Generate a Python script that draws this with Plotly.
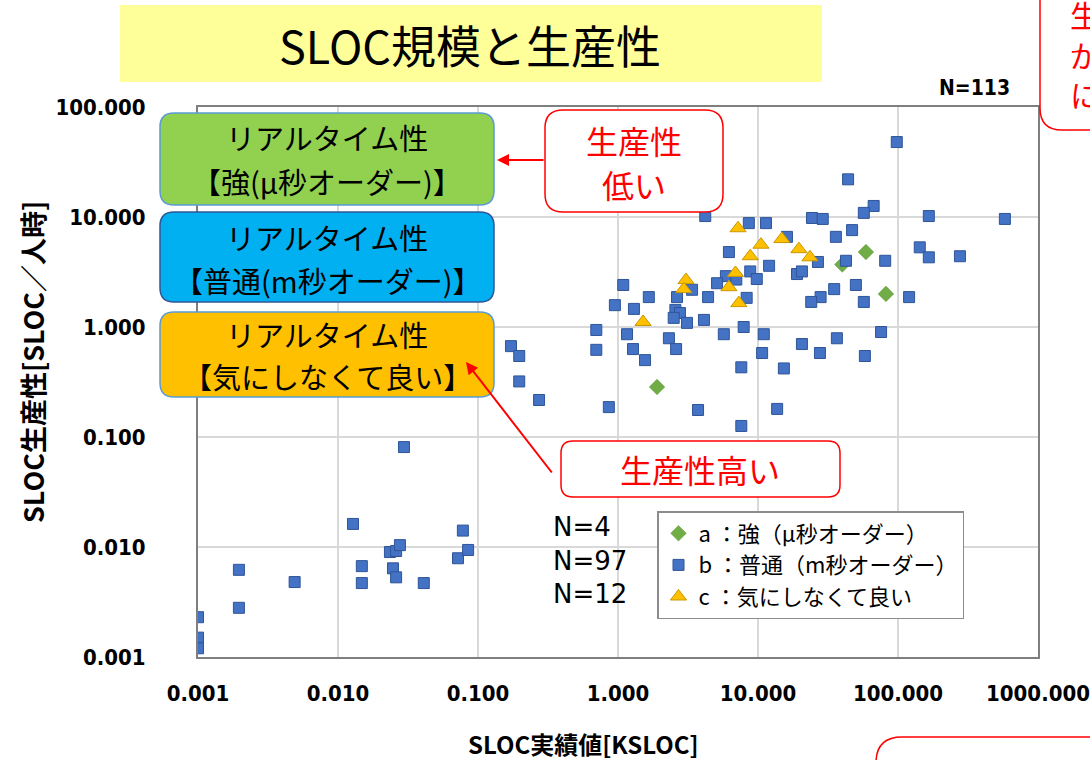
import plotly.graph_objects as go

# ---------------- data ----------------
a_x = [1.9, 59, 40, 82]
a_y = [0.285, 4.8, 3.7, 2.0]

b_x = [0.001, 0.001, 0.001, 0.00196, 0.00196, 0.0049, 0.0128, 0.0148, 0.0148,
       0.0235, 0.026, 0.0277, 0.0247, 0.026, 0.041, 0.072, 0.078, 0.085, 0.0296,
       0.172, 0.197, 0.197, 0.273, 0.70, 0.70, 1.16, 1.28, 1.56, 2.31, 2.6, 0.86,
       3.73, 5.7, 7.9, 11.0, 10.7, 7.6, 7.6, 13.7, 15.3, 20.6, 27.7, 36.6, 58, 75.7,
       4.2, 8.6, 11.4, 6.2, 12.0, 8.8, 9.8, 5.9, 5.1, 3.38, 2.64, 1.66, 1.09, 0.95,
       1.30, 2.57, 2.77, 2.5, 3.11, 4.11, 4.4, 8.3, 7.0,
       98, 44, 67, 57, 24.3, 29, 166, 580, 47, 36, 16.1, 26.8, 42.5, 81, 143, 166,
       277, 19.0, 20.6, 35, 50, 28, 24, 57, 120]
b_y = [0.0023, 0.0015, 0.0012, 0.0062, 0.0028, 0.0048, 0.0162, 0.0067, 0.0047,
       0.0090, 0.0092, 0.0104, 0.0064, 0.0053, 0.0047, 0.0079, 0.0141, 0.0094, 0.081,
       0.67, 0.545, 0.32, 0.217, 0.94, 0.62, 0.86, 0.63, 0.50, 0.79, 0.63, 0.187,
       0.176, 0.86, 1.0, 0.86, 0.58, 0.43, 0.126, 0.18, 0.42, 0.70, 0.58, 0.79, 0.545, 0.90,
       10.2, 8.8, 8.8, 4.8, 3.6, 3.2, 2.73, 2.9, 2.5, 2.18, 1.87, 1.87, 2.41, 1.58,
       1.46, 1.43, 1.34, 1.21, 1.09, 1.16, 1.87, 1.84, 2.7,
       48, 22, 12.6, 10.9, 9.8, 9.6, 10.2, 9.6, 7.6, 6.6, 6.6, 3.9, 4.0, 4.0, 5.3, 4.3,
       4.4, 3.03, 3.2, 2.21, 2.41, 1.87, 1.69, 1.69, 1.87]

c_x = [7.2, 10.5, 8.8, 6.9, 6.2, 3.06, 2.95, 1.51, 7.3, 14.8, 19.6, 23.5]
c_y = [7.9, 5.6, 4.4, 3.1, 2.3, 2.67, 2.21, 1.11, 1.65, 6.3, 5.1, 4.3]

x_ticks = [0.001, 0.01, 0.1, 1, 10, 100, 1000]
x_labels = ["0.001", "0.010", "0.100", "1.000", "10.000", "100.000", "1000.000"]
y_ticks = [0.001, 0.01, 0.1, 1, 10, 100]
y_labels = ["0.001", "0.010", "0.100", "1.000", "10.000", "100.000"]

legend_names = ["a ：強（μ秒オーダー）", "b ：普通（m秒オーダー）", "c ：気にしなくて良い"]
counts = ["N=4", "N=97", "N=12"]

# ---------------- layout helpers ----------------
W, H = 1090, 760
L, R, T, B = 198, 1038, 107, 657
PW, PH = R - L, B - T


def PX(x):
    return (x - L) / PW


def PY(y):
    return (B - y) / PH


def rrect(x0, y0, x1, y1, r):
    pts = [
        f"M {PX(x0 + r)},{PY(y0)}",
        f"L {PX(x1 - r)},{PY(y0)}",
        f"Q {PX(x1)},{PY(y0)} {PX(x1)},{PY(y0 + r)}",
        f"L {PX(x1)},{PY(y1 - r)}",
        f"Q {PX(x1)},{PY(y1)} {PX(x1 - r)},{PY(y1)}",
        f"L {PX(x0 + r)},{PY(y1)}",
        f"Q {PX(x0)},{PY(y1)} {PX(x0)},{PY(y1 - r)}",
        f"L {PX(x0)},{PY(y0 + r)}",
        f"Q {PX(x0)},{PY(y0)} {PX(x0 + r)},{PY(y0)}",
        "Z",
    ]
    return " ".join(pts)


JP = "Noto Sans CJK JP"

fig = go.Figure()
fig.add_trace(go.Scatter(x=a_x, y=a_y, mode="markers", name=legend_names[0],
                         marker=dict(symbol="diamond", size=12, color="#70AD47",
                                     line=dict(color="#5E9A3A", width=0.5))))
fig.add_trace(go.Scatter(x=b_x, y=b_y, mode="markers", name=legend_names[1],
                         marker=dict(symbol="square", size=11, color="#4472C4",
                                     line=dict(color="#2F5597", width=1))))
fig.add_trace(go.Scatter(x=c_x, y=c_y, mode="markers", name=legend_names[2],
                         marker=dict(symbol="triangle-up", size=14, color="#FFC000",
                                     line=dict(color="#C99700", width=1))))

shapes = []
annotations = []

# title box
shapes.append(dict(type="rect", xref="paper", yref="paper", x0=PX(120), x1=PX(822),
                   y0=PY(82), y1=PY(5), fillcolor="#FFFF99", line=dict(width=0), layer="above"))
annotations.append(dict(text="SLOC規模と生産性", x=PX(470), y=PY(45), xref="paper", yref="paper",
                        showarrow=False, font=dict(family=JP, size=45, color="#000000"),
                        xanchor="center", yanchor="middle"))

# N=113
annotations.append(dict(text="<b>N=113</b>", x=PX(1012), y=PY(88), xref="paper", yref="paper",
                        showarrow=False, xanchor="right", yanchor="middle",
                        font=dict(family="DejaVu Sans Condensed, DejaVu Sans", size=21, color="#000")))

# category boxes
boxes = [
    (113, 205, "#92D050", "#5B9BD5", "【強(μ秒オーダー)】", 137, 181),
    (212, 302, "#00B0F0", "#2F5597", "【普通(m秒オーダー)】", 237, 280),
    (312, 397, "#FFC000", "#5B9BD5", "【気にしなくて良い】", 334, 376),
]
for y0, y1, fill, border, line2, t1, t2 in boxes:
    shapes.append(dict(type="path", xref="paper", yref="paper", path=rrect(160, y0, 494, y1, 14),
                       fillcolor=fill, line=dict(color=border, width=1.5), layer="above"))
    annotations.append(dict(text="リアルタイム性", x=PX(327), y=PY(t1), xref="paper", yref="paper",
                            showarrow=False, font=dict(family=JP, size=29, color="#000"),
                            xanchor="center", yanchor="middle"))
    annotations.append(dict(text=line2, x=PX(327), y=PY(t2), xref="paper", yref="paper",
                            showarrow=False, font=dict(family=JP, size=29, color="#000"),
                            xanchor="center", yanchor="middle"))

# red callout boxes
shapes.append(dict(type="path", xref="paper", yref="paper", path=rrect(545, 110, 723, 212, 18),
                   fillcolor="#FFFFFF", line=dict(color="#FF0000", width=1.5), layer="above"))
annotations.append(dict(text="生産性", x=PX(634), y=PY(140), xref="paper", yref="paper",
                        showarrow=False, font=dict(family=JP, size=32, color="#FF0000"),
                        xanchor="center", yanchor="middle"))
annotations.append(dict(text="低い", x=PX(634), y=PY(184), xref="paper", yref="paper",
                        showarrow=False, font=dict(family=JP, size=32, color="#FF0000"),
                        xanchor="center", yanchor="middle"))

shapes.append(dict(type="path", xref="paper", yref="paper", path=rrect(561, 441, 840, 497, 12),
                   fillcolor="#FFFFFF", line=dict(color="#FF0000", width=1.5), layer="above"))
annotations.append(dict(text="生産性高い", x=PX(700), y=PY(469), xref="paper", yref="paper",
                        showarrow=False, font=dict(family=JP, size=32, color="#FF0000"),
                        xanchor="center", yanchor="middle"))

# arrows
annotations.append(dict(text="", x=PX(497), y=PY(160), xref="paper", yref="paper",
                        showarrow=True, ax=48, ay=0, arrowhead=2, arrowsize=1.2,
                        arrowwidth=2, arrowcolor="#FF0000"))
annotations.append(dict(text="", x=PX(466), y=PY(362), xref="paper", yref="paper",
                        showarrow=True, ax=87, ay=112, arrowhead=2, arrowsize=1.2,
                        arrowwidth=2, arrowcolor="#FF0000"))

# partial boxes at edges (cut off by the page border, as in the reference)
shapes.append(dict(type="path", xref="paper", yref="paper", path=rrect(1040, -40, 1140, 130, 22),
                   fillcolor="#FFFFFF", line=dict(color="#FF0000", width=1.5), layer="above"))
for ch, yy in [("生", 14), ("が", 54), ("に", 94)]:
    annotations.append(dict(text=ch, x=PX(1068), y=PY(yy), xref="paper", yref="paper",
                            showarrow=False, font=dict(family=JP, size=30, color="#FF0000"),
                            xanchor="left", yanchor="middle"))
shapes.append(dict(type="path", xref="paper", yref="paper", path=rrect(876, 737, 1200, 820, 26),
                   fillcolor="#FFFFFF", line=dict(color="#FF0000", width=1.5), layer="above"))

# counts
for txt, yy in zip(counts, [527, 561, 594]):
    annotations.append(dict(text=txt, x=PX(551), y=PY(yy), xref="paper", yref="paper",
                            showarrow=False, xanchor="left", yanchor="middle",
                            font=dict(family="DejaVu Sans", size=26, color="#000")))

# axis titles
annotations.append(dict(text="<b>SLOC生産性[SLOC／人時]</b>", x=PX(32), y=PY(362), xref="paper", yref="paper",
                        showarrow=False, textangle=-90, xanchor="center", yanchor="middle",
                        font=dict(family=JP, size=27, color="#000")))
annotations.append(dict(text="<b>SLOC実績値[KSLOC]</b>", x=PX(583), y=PY(743), xref="paper", yref="paper",
                        showarrow=False, xanchor="center", yanchor="middle",
                        font=dict(family=JP, size=24, color="#000")))

tickfont = dict(family="DejaVu Sans Condensed, DejaVu Sans", size=22, color="#000", weight="bold")

fig.update_layout(
    width=W, height=H,
    margin=dict(l=L, r=W - R, t=T, b=H - B, autoexpand=False),
    paper_bgcolor="#FFFFFF", plot_bgcolor="#FFFFFF",
    shapes=shapes, annotations=annotations,
    legend=dict(x=PX(657), y=PY(511), xanchor="left", yanchor="top",
                bgcolor="#FFFFFF", bordercolor="#8C8C8C", borderwidth=1.5,
                font=dict(family=JP, size=22, color="#000"),
                itemsizing="trace", tracegroupgap=0, entrywidth=295),
    xaxis=dict(type="log", range=[-3, 3], tickvals=x_ticks, ticktext=x_labels,
               showgrid=True, gridcolor="#D9D9D9", gridwidth=1.5,
               showline=True, linecolor="#7F7F7F", linewidth=2, mirror=True,
               ticks="", tickfont=tickfont, ticklabelstandoff=16, zeroline=False,
               automargin=False),
    yaxis=dict(type="log", range=[-3, 2], tickvals=y_ticks, ticktext=y_labels,
               showgrid=True, gridcolor="#D9D9D9", gridwidth=1.5,
               showline=True, linecolor="#7F7F7F", linewidth=2, mirror=True,
               ticks="", tickfont=tickfont, ticklabelstandoff=46, zeroline=False,
               automargin=False),
    showlegend=True,
)

fig.write_html("out.html", post_script="document.body.style.margin='0';",
               config={"displayModeBar": False})
